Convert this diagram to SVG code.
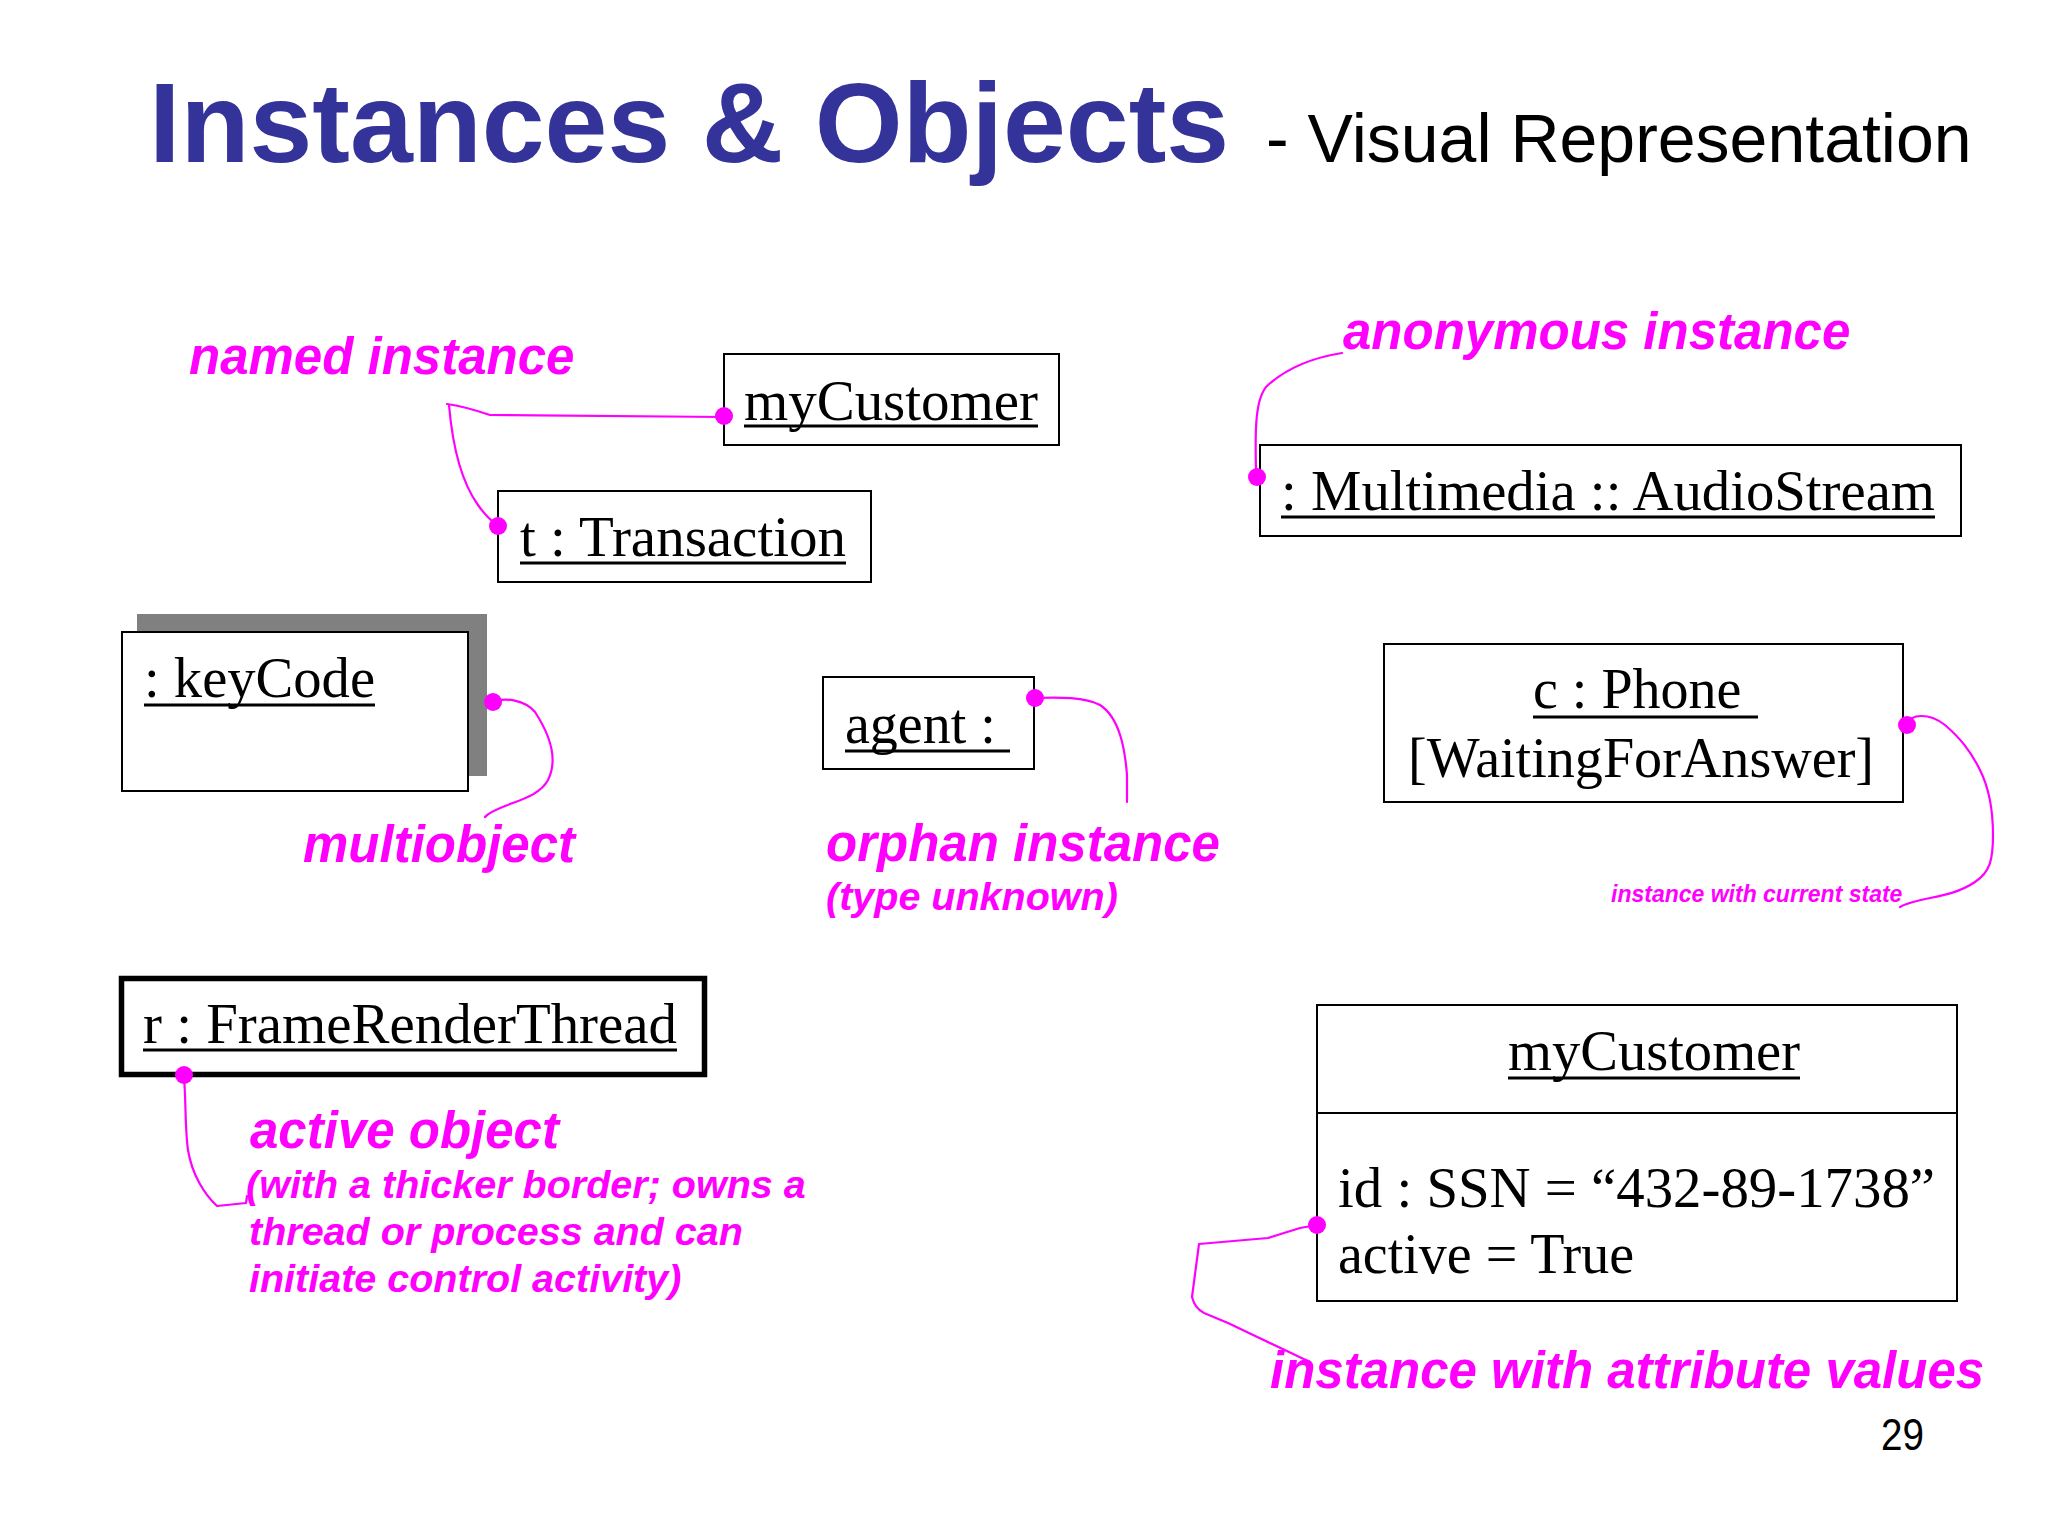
<svg xmlns="http://www.w3.org/2000/svg" width="2048" height="1536" viewBox="0 0 2048 1536">
<style>
.title{font-family:"Liberation Sans",Arial,sans-serif;font-weight:bold;font-size:113px;fill:#333399}
.sub{font-family:"Liberation Sans",Arial,sans-serif;font-size:68px;fill:#000}
.obj{font-family:"Liberation Serif","Times New Roman",serif;font-size:56px;fill:#000}
.lbl{font-family:"Liberation Sans",Arial,sans-serif;font-weight:bold;font-style:italic;font-size:51px;fill:#ff00ff}
.lbls{font-family:"Liberation Sans",Arial,sans-serif;font-weight:bold;font-style:italic;font-size:39.5px;fill:#ff00ff}
.lblt{font-family:"Liberation Sans",Arial,sans-serif;font-weight:bold;font-style:italic;font-size:23px;fill:#ff00ff}
.box{fill:#fff;stroke:#000;stroke-width:2}
.ul{stroke:#000;stroke-width:3}
.con{fill:none;stroke:#ff00ff;stroke-width:2.2;stroke-linejoin:round;stroke-linecap:round}
.dot{fill:#ff00ff}
.num{font-family:"Liberation Sans",Arial,sans-serif;font-size:44px;fill:#000}
</style>
<rect width="2048" height="1536" fill="#fff"/>
<g id="title">
<text class="title" x="149" y="162">Instances &amp; Objects</text>
<text class="sub" x="1266" y="162">- Visual Representation</text>
</g>
<g id="named-myCustomer">
<rect class="box" x="724" y="354" width="335" height="91"/>
<text class="obj" x="744" y="420" textLength="294" lengthAdjust="spacingAndGlyphs">myCustomer</text>
<line class="ul" x1="744" y1="426" x2="1038" y2="426"/>
</g>
<g id="named-transaction">
<rect class="box" x="498" y="491" width="373" height="91"/>
<text class="obj" x="520" y="556" textLength="326" lengthAdjust="spacingAndGlyphs">t : Transaction</text>
<line class="ul" x1="520" y1="563" x2="846" y2="563"/>
</g>
<g id="anonymous">
<rect class="box" x="1260" y="445" width="701" height="91"/>
<text class="obj" x="1281" y="510" textLength="654" lengthAdjust="spacingAndGlyphs">: Multimedia :: AudioStream</text>
<line class="ul" x1="1281" y1="517" x2="1935" y2="517"/>
</g>
<g id="multiobject">
<rect x="137" y="614" width="350" height="162" fill="#808080"/>
<rect class="box" x="122" y="632" width="346" height="159"/>
<text class="obj" x="144" y="697" textLength="231" lengthAdjust="spacingAndGlyphs">: keyCode</text>
<line class="ul" x1="144" y1="705" x2="375" y2="705"/>
</g>
<g id="orphan">
<rect class="box" x="823" y="677" width="211" height="92"/>
<text class="obj" x="845" y="743">agent :</text>
<line class="ul" x1="845" y1="751" x2="1010" y2="751"/>
</g>
<g id="phone">
<rect class="box" x="1384" y="644" width="519" height="158"/>
<text class="obj" x="1533" y="708">c : Phone</text>
<line class="ul" x1="1533" y1="717" x2="1758" y2="717"/>
<text class="obj" x="1408" y="777" textLength="466" lengthAdjust="spacingAndGlyphs">[WaitingForAnswer]</text>
</g>
<g id="active-object">
<rect x="121.5" y="978.5" width="583" height="96" fill="#fff" stroke="#000" stroke-width="5.5"/>
<text class="obj" x="143" y="1043" textLength="534" lengthAdjust="spacingAndGlyphs">r : FrameRenderThread</text>
<line class="ul" x1="143" y1="1050" x2="677" y2="1050"/>
</g>
<g id="attr-myCustomer">
<rect class="box" x="1317" y="1005" width="640" height="296"/>
<line x1="1317" y1="1113" x2="1957" y2="1113" stroke="#000" stroke-width="2"/>
<text class="obj" x="1508" y="1070" textLength="292" lengthAdjust="spacingAndGlyphs">myCustomer</text>
<line class="ul" x1="1508" y1="1078" x2="1800" y2="1078"/>
<text class="obj" x="1338" y="1207" textLength="597" lengthAdjust="spacingAndGlyphs">id : SSN = “432-89-1738”</text>
<text class="obj" x="1338" y="1273">active = True</text>
</g>
<g id="labels">
<text class="lbl" x="189" y="374">named instance</text>
<text class="lbl" x="1343" y="349">anonymous instance</text>
<text class="lbl" x="303" y="862">multiobject</text>
<text class="lbl" x="826" y="861">orphan instance</text>
<text class="lbls" x="826" y="910">(type unknown)</text>
<text class="lblt" x="1611" y="902">instance with current state</text>
<text class="lbl" x="250" y="1148">active object</text>
<text class="lbls" x="246" y="1198">(with a thicker border; owns a</text>
<text class="lbls" x="249" y="1245">thread or process and can</text>
<text class="lbls" x="249" y="1292">initiate control activity)</text>
<text class="lbl" x="1270" y="1388">instance with attribute values</text>
</g>
<g id="connectors">
<path class="con" d="M447,404 C462,406 475,410 490,415 L724,417"/>
<path class="con" d="M449,405 C452,440 460,480 478,505 C485,515 490,520 497,525"/>
<path class="con" d="M1342,353 C1310,358 1285,370 1268,385 C1255,397 1255,430 1256,470"/>
<path class="con" d="M492,702 C505,697 525,700 535,712 C550,735 558,760 548,780 C540,795 520,800 505,806 C495,810 488,813 485,817"/>
<path class="con" d="M1034,698 C1060,697 1085,697 1100,705 C1120,718 1125,750 1127,775 L1127,802"/>
<path class="con" d="M1907,725 C1910,713 1930,713 1945,725 C1960,738 1970,750 1980,770 C1990,790 1993,810 1993,835 C1993,860 1990,872 1975,882 C1960,892 1945,895 1930,898 C1915,901 1905,904 1900,907"/>
<path class="con" d="M184,1078 C186,1100 185,1130 188,1150 C192,1175 205,1195 217,1206 L246,1203 L247,1196"/>
<path class="con" d="M1317,1225 L1300,1228 L1268,1238 L1199,1244 L1192,1297 C1194,1305 1198,1310 1204,1313 L1228,1323 L1310,1362"/>
<circle class="dot" cx="724" cy="416" r="9"/>
<circle class="dot" cx="498" cy="526" r="9"/>
<circle class="dot" cx="1257" cy="477" r="9"/>
<circle class="dot" cx="493" cy="702" r="9"/>
<circle class="dot" cx="1035" cy="698" r="9"/>
<circle class="dot" cx="1907" cy="725" r="9"/>
<circle class="dot" cx="184" cy="1075" r="9"/>
<circle class="dot" cx="1317" cy="1225" r="9"/>
</g>
<text class="num" x="1881" y="1450" textLength="43" lengthAdjust="spacingAndGlyphs">29</text>
</svg>
